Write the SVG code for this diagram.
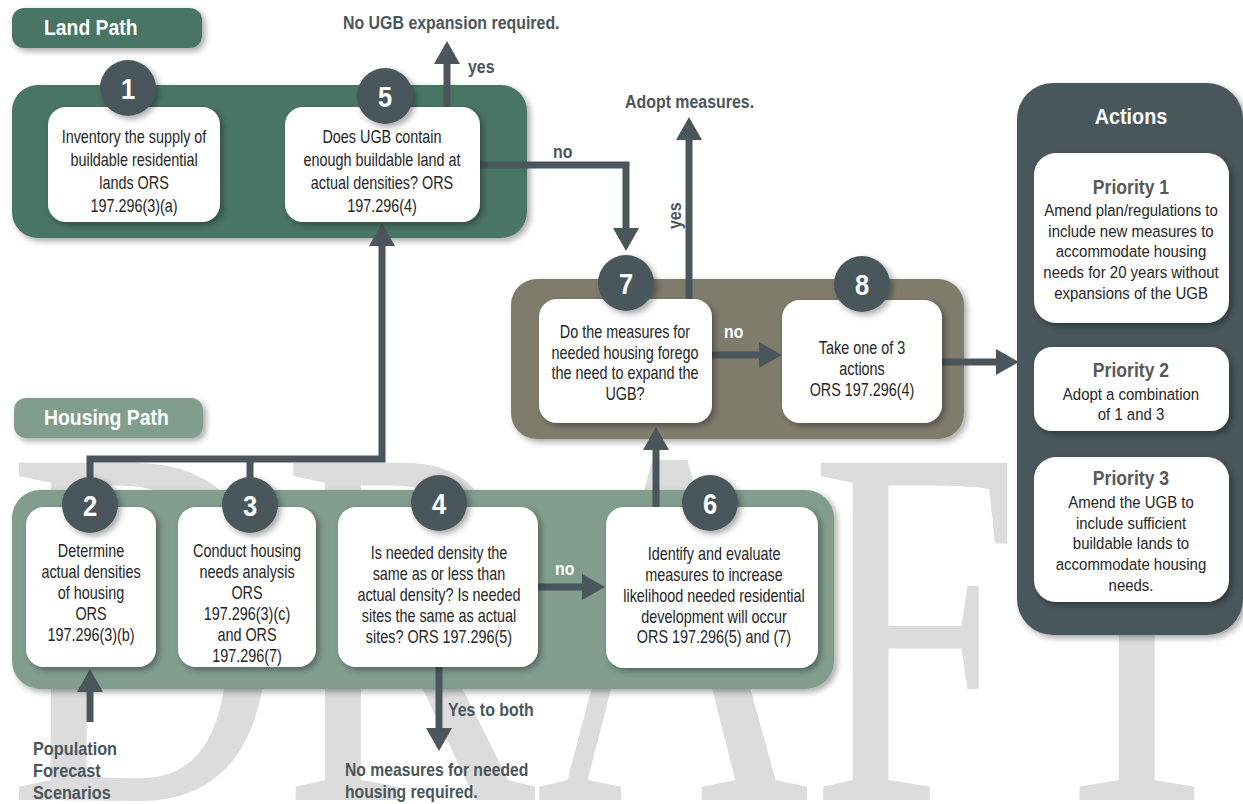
<svg xmlns="http://www.w3.org/2000/svg" width="1243" height="804" viewBox="0 0 1243 804">
<defs>
<filter id="sh" x="-20%" y="-20%" width="140%" height="140%">
<feDropShadow dx="3" dy="3" stdDeviation="3" flood-color="#000" flood-opacity="0.35"/>
</filter>
<marker id="ah" markerUnits="userSpaceOnUse" markerWidth="24" markerHeight="26" refX="0" refY="13" orient="auto" viewBox="0 0 24 26">
<path d="M0,0 L23,13 L0,26 Z" fill="#4a565c"/>
</marker>
<style>
.wm{font-family:"Liberation Serif","Times New Roman",serif;font-size:515px;fill:#dcdcdc;}
.panel{filter:url(#sh);}
.box{fill:#fff;filter:url(#sh);}
.circ{fill:#4a565c;filter:url(#sh);}
text{font-family:"Liberation Sans",Arial,sans-serif;}
.num{font-weight:bold;font-size:30px;fill:#fff;text-anchor:middle;}
.t{font-size:18px;fill:#262626;text-anchor:middle;}
.p{font-size:17px;fill:#262626;text-anchor:middle;}
.lbl{font-weight:bold;font-size:18.5px;fill:#4a565c;}
.wlbl{font-weight:bold;font-size:18.5px;fill:#fff;}
.hdr{font-weight:bold;font-size:22px;fill:#fff;}
.pri{font-weight:bold;font-size:20px;fill:#595959;text-anchor:middle;}
.conn path{fill:none;stroke:#4a565c;stroke-width:7;}
</style>
</defs>
<rect width="1243" height="804" fill="#fff"/>
<text class="wm" x="8" y="800" textLength="1245" lengthAdjust="spacingAndGlyphs">DRAFT</text>

<g id="land-path">
<rect x="12" y="8" width="190" height="40" rx="12" fill="#487565" class="panel"/>
<g transform="translate(44,35) scale(0.88,1)"><text class="hdr" x="0" y="0">Land Path</text></g>
<rect x="12" y="85" width="515" height="153" rx="26" fill="#487565" class="panel"/>
</g>

<g id="housing-path">
<rect x="14" y="398" width="189" height="40" rx="12" fill="#819d8e" class="panel"/>
<g transform="translate(44,425) scale(0.88,1)"><text class="hdr" x="0" y="0">Housing Path</text></g>
<rect x="12" y="490" width="822" height="199" rx="28" fill="#819d8e" class="panel"/>
</g>

<g id="decision-panel">
<rect x="511" y="279" width="453" height="160" rx="26" fill="#807c6c" class="panel"/>
</g>

<g id="actions">
<rect x="1017" y="83" width="226" height="552" rx="36" fill="#4a565c" class="panel"/>
<g transform="translate(1131,124) scale(0.9,1)"><text class="hdr" x="0" y="0" text-anchor="middle">Actions</text></g>
</g>

<g class="conn" id="connectors">
<path d="M447,107 V64" marker-end="url(#ah)"/>
<path d="M480,165 H626 V228" marker-end="url(#ah)"/>
<path d="M90,478 V459 H382 V246" marker-end="url(#ah)"/>
<path d="M250,478 V459"/>
<path d="M689,299 V140" marker-end="url(#ah)"/>
<path d="M712,355 H759" marker-end="url(#ah)"/>
<path d="M942,362 H996" marker-end="url(#ah)"/>
<path d="M538,587 H582" marker-end="url(#ah)"/>
<path d="M656,507 V450" marker-end="url(#ah)"/>
<path d="M439,667 V728" marker-end="url(#ah)"/>
<path d="M90,722 V692" marker-end="url(#ah)"/>
</g>

<g id="edge-labels">
<g transform="translate(343,29) scale(0.86,1)"><text class="lbl" x="0" y="0">No UGB expansion required.</text></g>
<g transform="translate(468,73) scale(0.86,1)"><text class="lbl" x="0" y="0">yes</text></g>
<g transform="translate(553,158) scale(0.86,1)"><text class="lbl" x="0" y="0">no</text></g>
<g transform="translate(625,108) scale(0.86,1)"><text class="lbl" x="0" y="0">Adopt measures.</text></g>
<g transform="translate(681,229) rotate(-90) scale(0.86,1)"><text class="lbl" x="0" y="0">yes</text></g>
<g transform="translate(724,338) scale(0.86,1)"><text class="wlbl" x="0" y="0">no</text></g>
<g transform="translate(555,575) scale(0.86,1)"><text class="wlbl" x="0" y="0">no</text></g>
<g transform="translate(448,716) scale(0.86,1)"><text class="lbl" x="0" y="0">Yes to both</text></g>
<g transform="translate(345,0) scale(0.85,1)">
<text class="lbl" x="0" y="776">No measures for needed</text>
<text class="lbl" x="0" y="798">housing required.</text>
</g>
<g transform="translate(33,0) scale(0.88,1)">
<text class="lbl" x="0" y="755">Population</text>
<text class="lbl" x="0" y="777">Forecast</text>
<text class="lbl" x="0" y="799">Scenarios</text>
</g>
</g>

<g id="node1">
<rect class="box" x="48" y="107" width="172" height="115" rx="18"/>
<circle class="circ" cx="128" cy="88" r="28"/>
<g transform="translate(128,0) scale(0.85,1)"><text class="num" x="0" y="99">1</text></g>
<g transform="translate(134,0) scale(0.8,1)">
<text class="t" x="0" y="143">Inventory  the supply of</text>
<text class="t" x="0" y="166">buildable residential</text>
<text class="t" x="0" y="189">lands ORS</text>
<text class="t" x="0" y="212">197.296(3)(a)</text>
</g>
</g>

<g id="node5">
<rect class="box" x="285" y="107" width="195" height="115" rx="18"/>
<circle class="circ" cx="385" cy="96" r="28"/>
<g transform="translate(385,0) scale(0.85,1)"><text class="num" x="0" y="107">5</text></g>
<g transform="translate(382,0) scale(0.8,1)">
<text class="t" x="0" y="143">Does UGB contain</text>
<text class="t" x="0" y="166">enough buildable land at</text>
<text class="t" x="0" y="189">actual densities? ORS</text>
<text class="t" x="0" y="212">197.296(4)</text>
</g>
</g>

<g id="node7">
<rect class="box" x="539" y="299" width="173" height="124" rx="18"/>
<circle class="circ" cx="626" cy="283" r="28"/>
<g transform="translate(626,0) scale(0.85,1)"><text class="num" x="0" y="294">7</text></g>
<g transform="translate(625,0) scale(0.8,1)">
<text class="t" x="0" y="338">Do the measures for</text>
<text class="t" x="0" y="359">needed housing forego</text>
<text class="t" x="0" y="379">the  need to expand the</text>
<text class="t" x="0" y="400">UGB?</text>
</g>
</g>

<g id="node8">
<rect class="box" x="782" y="300" width="160" height="123" rx="18"/>
<circle class="circ" cx="862" cy="284" r="28"/>
<g transform="translate(862,0) scale(0.85,1)"><text class="num" x="0" y="295">8</text></g>
<g transform="translate(862,0) scale(0.8,1)">
<text class="t" x="0" y="354">Take one of 3</text>
<text class="t" x="0" y="375">actions</text>
<text class="t" x="0" y="396">ORS 197.296(4)</text>
</g>
</g>

<g id="node2">
<rect class="box" x="26" y="507" width="130" height="160" rx="18"/>
<circle class="circ" cx="90" cy="505" r="28"/>
<g transform="translate(90,0) scale(0.85,1)"><text class="num" x="0" y="516">2</text></g>
<g transform="translate(91,0) scale(0.8,1)">
<text class="t" x="0" y="557">Determine</text>
<text class="t" x="0" y="578">actual densities</text>
<text class="t" x="0" y="599">of housing</text>
<text class="t" x="0" y="620">ORS</text>
<text class="t" x="0" y="641">197.296(3)(b)</text>
</g>
</g>

<g id="node3">
<rect class="box" x="178" y="507" width="138" height="160" rx="18"/>
<circle class="circ" cx="250" cy="505" r="28"/>
<g transform="translate(250,0) scale(0.85,1)"><text class="num" x="0" y="516">3</text></g>
<g transform="translate(247,0) scale(0.8,1)">
<text class="t" x="0" y="557">Conduct housing</text>
<text class="t" x="0" y="578">needs analysis</text>
<text class="t" x="0" y="599">ORS</text>
<text class="t" x="0" y="620">197.296(3)(c)</text>
<text class="t" x="0" y="641">and ORS</text>
<text class="t" x="0" y="662">197.296(7)</text>
</g>
</g>

<g id="node4">
<rect class="box" x="338" y="507" width="200" height="160" rx="18"/>
<circle class="circ" cx="439" cy="503" r="28"/>
<g transform="translate(439,0) scale(0.85,1)"><text class="num" x="0" y="514">4</text></g>
<g transform="translate(439,0) scale(0.8,1)">
<text class="t" x="0" y="559">Is needed density the</text>
<text class="t" x="0" y="580">same as or less than</text>
<text class="t" x="0" y="601">actual density? Is needed</text>
<text class="t" x="0" y="622">sites the same as actual</text>
<text class="t" x="0" y="643">sites? ORS 197.296(5)</text>
</g>
</g>

<g id="node6">
<rect class="box" x="606" y="507" width="212" height="161" rx="18"/>
<circle class="circ" cx="710" cy="503" r="28"/>
<g transform="translate(710,0) scale(0.85,1)"><text class="num" x="0" y="514">6</text></g>
<g transform="translate(714,0) scale(0.8,1)">
<text class="t" x="0" y="560">Identify  and evaluate</text>
<text class="t" x="0" y="581">measures to increase</text>
<text class="t" x="0" y="602">likelihood needed residential</text>
<text class="t" x="0" y="623">development will  occur</text>
<text class="t" x="0" y="643">ORS 197.296(5) and (7)</text>
</g>
</g>

<g id="priority1">
<rect class="box" x="1034" y="153" width="195" height="170" rx="22"/>
<g transform="translate(1131,0) scale(0.88,1)">
<text class="pri" x="0" y="194">Priority 1</text>
<text class="p" x="0" y="216">Amend plan/regulations to</text>
<text class="p" x="0" y="237">include new measures to</text>
<text class="p" x="0" y="257">accommodate housing</text>
<text class="p" x="0" y="278">needs for 20 years without</text>
<text class="p" x="0" y="299">expansions of the UGB</text>
</g>
</g>

<g id="priority2">
<rect class="box" x="1034" y="347" width="195" height="84" rx="18"/>
<g transform="translate(1131,0) scale(0.88,1)">
<text class="pri" x="0" y="377">Priority 2</text>
<text class="p" x="0" y="400">Adopt a combination</text>
<text class="p" x="0" y="420">of 1 and 3</text>
</g>
</g>

<g id="priority3">
<rect class="box" x="1034" y="457" width="195" height="145" rx="22"/>
<g transform="translate(1131,0) scale(0.88,1)">
<text class="pri" x="0" y="485">Priority 3</text>
<text class="p" x="0" y="508">Amend the UGB to</text>
<text class="p" x="0" y="529">include sufficient</text>
<text class="p" x="0" y="549">buildable lands to</text>
<text class="p" x="0" y="570">accommodate housing</text>
<text class="p" x="0" y="591">needs.</text>
</g>
</g>
</svg>
